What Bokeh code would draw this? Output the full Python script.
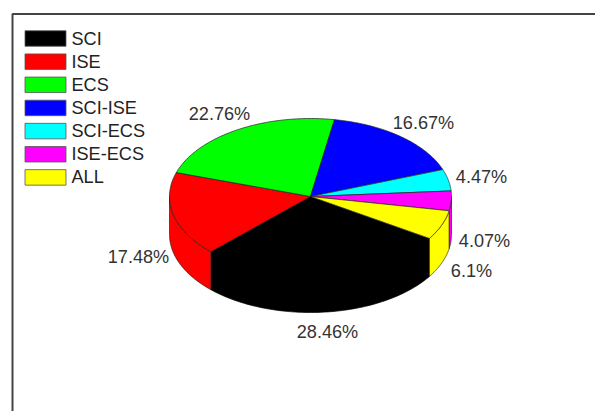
import numpy as np
from bokeh.plotting import figure
from bokeh.models import Range1d
from bokeh.core.properties import value
from bokeh.embed import file_html
from bokeh.resources import INLINE

categories = ["SCI", "ISE", "ECS", "SCI-ISE", "SCI-ECS", "ISE-ECS", "ALL"]
shares = [28.46, 17.48, 22.76, 16.67, 4.47, 4.07, 6.1]
labels = ["28.46%", "17.48%", "22.76%", "16.67%", "4.47%", "4.07%", "6.1%"]
colors = ["#000000", "#ff0000", "#00ff00", "#0000ff", "#00ffff", "#ff00ff", "#ffff00"]

W, H = 595, 411
p = figure(width=W, height=H, output_backend="svg", toolbar_location=None,
           x_range=Range1d(0, W), y_range=Range1d(H, 0),
           min_border=0, outline_line_color=None)
p.axis.visible = False
p.grid.visible = False
p.background_fill_color = "white"
p.border_fill_color = "white"

# frame: the source is cropped, only its top and left edges are visible
p.line([12, 12, W], [H, 13.5, 13.5], line_color="#444444", line_width=2)

# pie geometry in page pixels
CX, CY, RX, RY, DEPTH = 310.0, 196.0, 141.0, 78.0, 38.0
START = -32.5
total = sum(shares)
edges = START - np.concatenate([[0], np.cumsum(shares)]) / total * 360.0


def arc(a0, a1, n=80):
    t = np.radians(np.linspace(a0, a1, n))
    return CX + RX * np.cos(t), CY - RY * np.sin(t)


# side walls: only the front part of the rim (angles -180..0) is visible
for i, c in enumerate(colors):
    hi, lo = edges[i], edges[i + 1]
    edge = "#000000" if c == "#000000" else "#222222"
    lift = 4.0 if c == "#000000" else 0.0  # black wall overlaps its black top, no seam
    for shift in (0, 360):
        a = min(hi + shift, 0.0)
        b = max(lo + shift, -180.0)
        if a > b:
            x, y = arc(a, b)
            p.patch(np.concatenate([x, x[::-1]]),
                    np.concatenate([y - lift, y[::-1] + DEPTH]),
                    fill_color=c, line_color=edge, line_width=0.7)

# top faces
for i, c in enumerate(colors):
    x, y = arc(edges[i], edges[i + 1])
    edge = "#000000" if c == "#000000" else "#222222"
    p.patch(np.concatenate([[CX], x]), np.concatenate([[CY], y]),
            fill_color=c, line_color=edge, line_width=0.7)

# legend
font = value("Liberation Sans")
LEG_X0, LEG_X1, LEG_Y0, LEG_STEP, LEG_H = 24.5, 65.5, 38.0, 23.15, 15.5
for i, (name, c) in enumerate(zip(categories, colors)):
    yc = LEG_Y0 + i * LEG_STEP
    p.quad(left=[LEG_X0], right=[LEG_X1], top=[yc - LEG_H / 2], bottom=[yc + LEG_H / 2],
           fill_color=c, line_color="#555555", line_width=0.8)
    p.text([71], [yc], text=[name], text_font_size="13.6pt", text_font=font,
           text_color="#222222", text_baseline="middle", text_align="left")

# percentage labels, placed beside the pie
pos = [(327, 331), (138, 256), (219, 113), (423, 122), (481, 176), (484, 240), (471, 270)]
for (x, y), s in zip(pos, labels):
    p.text([x], [y], text=[s], text_font_size="13.6pt", text_font=font,
           text_color="#333333", text_baseline="middle", text_align="center")

open("out.html", "w").write(file_html(p, INLINE))
